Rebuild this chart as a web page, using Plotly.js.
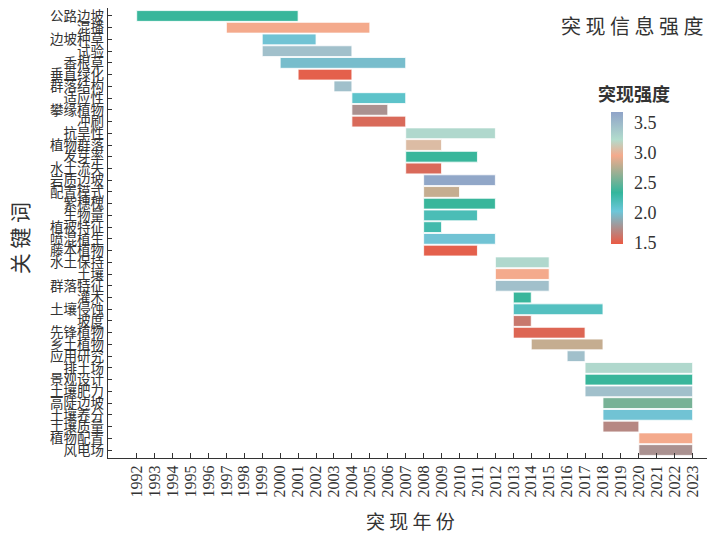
<!DOCTYPE html>
<html>
<head>
<meta charset="utf-8">
<script src="https://cdn.plot.ly/plotly-3.0.1.min.js"></script>
<style>html,body{margin:0;padding:0;background:#fff;}</style>
</head>
<body>
<div id="chart" style="width:719px;height:534px;"></div>
<script>
const keywords = ["公路边坡","混播","边坡种草","试验","香根草","垂直绿化","群落结构","适应性","攀缘植物","冲刷",
  "抗旱性","植物群落","发芽率","水土流失","岩质边坡","配置模式","紫穗槐","生物量","植被特征","喷混植生",
  "藤本植物","水土保持","土壤","群落特征","灌木","土壤侵蚀","坡度","先锋植物","乡土植物","应用研究",
  "排土场","景观设计","土壤肥力","高陡边坡","土壤养分","土壤质量","植物配置","风电场"];
const beginYear = [1992,1997,1999,1999,2000,2001,2003,2004,2004,2004,
  2007,2007,2007,2007,2008,2008,2008,2008,2008,2008,
  2008,2012,2012,2012,2013,2013,2013,2013,2014,2016,
  2017,2017,2017,2018,2018,2018,2020,2020];
const endYear = [2001,2005,2002,2004,2007,2004,2004,2007,2006,2007,
  2012,2009,2011,2009,2012,2010,2012,2011,2009,2012,
  2011,2015,2015,2015,2014,2018,2014,2017,2018,2017,
  2023,2023,2023,2023,2023,2020,2023,2023];
const strength = [2.35,2.95,2.0,3.45,1.97,1.5,3.45,2.1,1.75,1.55,
  3.25,3.05,2.35,1.55,3.65,2.8,2.35,2.2,2.25,2.0,
  1.5,3.25,2.95,3.45,2.35,2.15,1.62,1.53,2.8,3.45,
  3.25,2.35,3.45,2.55,2.0,1.7,2.95,1.75];
const years = [];
for (let y = 1992; y <= 2023; y++) years.push(y);

const idx = keywords.map((k,i)=>i);
const dur = endYear.map((e,i)=>e-beginYear[i]);

const cmin = 1.47, cmax = 3.68;
const cs = [
  [0, '#EB5A44'],
  [0.249, '#6CC7DA'],
  [0.389, '#33B69C'],
  [0.670, '#F4AA8C'],
  [0.792, '#B2DCCD'],
  [1, '#8FA3C8']
];

const serif = "Liberation Serif, DejaVu Serif, serif";
const cjk = "Noto Sans CJK SC";

const trace = {
  type: 'bar',
  orientation: 'h',
  y: idx,
  x: dur,
  base: beginYear,
  width: 0.92,
  marker: {
    color: strength,
    cmin: cmin, cmax: cmax,
    colorscale: cs,
    line: {color: 'rgba(255,255,255,0.8)', width: 1},
    showscale: true,
    colorbar: {
      x: 0.84, xanchor: 'left',
      y: 0.622, yanchor: 'middle',
      thickness: 12,
      len: 132, lenmode: 'pixels',
      outlinewidth: 0,
      tickvals: [1.5,2.0,2.5,3.0,3.5],
      ticktext: ['1.5','2.0','2.5','3.0','3.5'],
      ticks: 'outside', ticklen: 8, tickcolor: 'rgba(255,255,255,0)',
      tickfont: {family: serif, size: 18, color: '#333'},
      xpad: 0, ypad: 0
    }
  },
  hoverinfo: 'none'
};

const layout = {
  width: 719, height: 534,
  margin: {l: 108, r: 12, t: 8, b: 76},
  paper_bgcolor: '#fff', plot_bgcolor: '#fff',
  showlegend: false,
  bargap: 0,
  font: {family: serif},
  xaxis: {
    range: [1990.4, 2023.8],
    tickvals: years,
    ticktext: years.map(String),
    tickangle: -90,
    ticks: 'inside', ticklen: 5, tickcolor: '#333',
    showline: true, linecolor: '#333', linewidth: 1.2,
    showgrid: false, zeroline: false,
    tickfont: {family: serif, size: 16, color: '#333'}
  },
  yaxis: {
    range: [37.68, -0.68],
    tickvals: idx,
    ticktext: keywords,
    ticks: 'inside', ticklen: 4, tickcolor: '#333',
    showline: true, linecolor: '#333', linewidth: 1.2,
    showgrid: false, zeroline: false,
    tickfont: {family: cjk, size: 13.5, color: '#333'}
  },
  annotations: [
    {text: '突 现 信 息 强 度', xref: 'paper', yref: 'paper', x: 0.997, y: 0.997,
     xanchor: 'right', yanchor: 'top', showarrow: false,
     font: {family: cjk, size: 20, color: '#333'}},
    {text: '<b>突现强度</b>', xref: 'paper', yref: 'paper', x: 0.815, y: 0.778,
     xanchor: 'left', yanchor: 'bottom', showarrow: false,
     font: {family: cjk, size: 18, color: '#333'}},
    {text: '突 现 年 份', xref: 'paper', yref: 'paper', x: 0.505, y: -0.138,
     xanchor: 'center', yanchor: 'middle', showarrow: false,
     font: {family: cjk, size: 19, color: '#333'}},
    {text: '关 键 词', xref: 'paper', yref: 'paper', x: -0.148, y: 0.489,
     xanchor: 'center', yanchor: 'middle', showarrow: false, textangle: -90,
     font: {family: cjk, size: 21, color: '#333'}}
  ]
};

Plotly.newPlot('chart', [trace], layout, {displayModeBar: false, staticPlot: true});
</script>
</body>
</html>
